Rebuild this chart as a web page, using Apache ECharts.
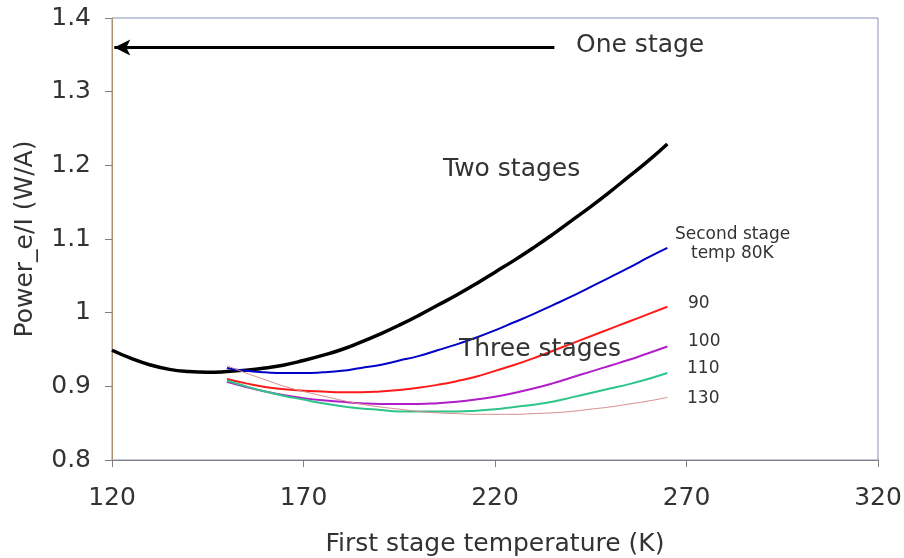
<!DOCTYPE html>
<html><head><meta charset="utf-8">
<script src="https://cdn.jsdelivr.net/npm/echarts@6/dist/echarts.min.js"></script>
<style>html,body{margin:0;padding:0;background:#fff}#c{width:904px;height:558px}</style>
</head><body><div id="c"></div>
<script>
var twoT = [120,125,130,135,140,145,150,155,160,165,170,175,180,185,190,195,200,205,210,215,220,225,230,235,240,245,250,255,260,265];
var twoStage = [0.949,0.938,0.929,0.923,0.920,0.919,0.920,0.922,0.925,0.929,0.935,0.942,0.950,0.960,0.971,0.983,0.996,1.010,1.024,1.039,1.055,1.071,1.088,1.106,1.125,1.144,1.164,1.185,1.206,1.229];
var threeT = [150,155,160,165,170,175,180,185,190,195,200,205,210,215,220,225,230,235,240,245,250,255,260,265];
var s80  = [0.925,0.921,0.919,0.918,0.918,0.919,0.921,0.925,0.929,0.935,0.941,0.949,0.957,0.966,0.976,0.987,0.998,1.010,1.022,1.035,1.048,1.061,1.075,1.088];
var s90  = [0.910,0.904,0.899,0.896,0.894,0.893,0.892,0.892,0.893,0.895,0.898,0.902,0.907,0.913,0.921,0.929,0.938,0.948,0.958,0.968,0.978,0.988,0.998,1.008];
var s100 = [0.906,0.899,0.893,0.888,0.884,0.881,0.879,0.877,0.876,0.876,0.876,0.877,0.879,0.882,0.886,0.891,0.897,0.904,0.912,0.920,0.928,0.936,0.945,0.954];
var s110 = [0.908,0.900,0.893,0.887,0.882,0.877,0.873,0.870,0.868,0.866,0.866,0.866,0.866,0.867,0.869,0.872,0.875,0.879,0.885,0.891,0.897,0.903,0.910,0.918];
var s130 = [0.928,0.918,0.909,0.900,0.893,0.887,0.881,0.876,0.872,0.869,0.866,0.864,0.863,0.862,0.862,0.862,0.863,0.864,0.866,0.869,0.872,0.876,0.880,0.885];
var xTicks = [120,170,220,270,320];
var yTicks = [0.8,0.9,1.0,1.1,1.2,1.3,1.4];
var arrowFrom = [235.5,1.36], arrowTo = [120.6,1.36];

function pairs(xs, ys){ return xs.map(function(x,i){return [x, ys[i]];}); }
var F = 'DejaVu Sans';
var chart = echarts.init(document.getElementById('c'));
function ln(name, xs, ys, color, w){
  return {name:name,type:'line',data:pairs(xs,ys),smooth:true,showSymbol:false,symbol:'none',
    lineStyle:{color:color,width:w},z:3};
}
var series = [
  ln('Two stages', twoT, twoStage, '#000000', 3.5),
  ln('80K', threeT, s80, '#0000c8', 2),
  ln('90', threeT, s90, '#ff1a1a', 2),
  ln('100', threeT, s100, '#b01ec8', 2),
  ln('110', threeT, s110, '#2ec48a', 2),
  ln('130', threeT, s130, '#d98a8a', 1)
];
series[0].markLine = {silent:true,symbol:['none','arrow'],symbolSize:[12,16],label:{show:false},
  lineStyle:{color:'#000',width:3,type:'solid'},
  data:[[{coord:arrowFrom},{coord:arrowTo}]]};
var txt = function(l,t,s,size){return {type:'text',left:l,top:t,style:{text:s,font:size+'px "'+F+'"',fill:'#333'},z:10};};
chart.setOption({
  animation:false,
  backgroundColor:'#fff',
  grid:{left:112,right:26,top:18,bottom:98,show:true,borderColor:'#8890b8',borderWidth:1,outerBoundsMode:'none',containLabel:false},
  xAxis:{type:'value',min:120,max:320,interval:50,
    axisLine:{show:true,lineStyle:{color:'#808080',width:1}},
    axisTick:{show:true,inside:false,length:7,lineStyle:{color:'#808080'}},
    splitLine:{show:false},
    axisLabel:{color:'#333',fontSize:25,fontFamily:F,margin:26,
      formatter:function(v){return xTicks.indexOf(v)>=0?String(v):'';}},
    name:'First stage temperature (K)',nameLocation:'middle',nameGap:72,
    nameTextStyle:{color:'#333',fontSize:25,fontFamily:F}},
  yAxis:{type:'value',min:0.8,max:1.4,interval:0.1,
    axisLine:{show:true,lineStyle:{color:'#a89070',width:1}},
    axisTick:{show:true,inside:false,length:7,lineStyle:{color:'#808080'}},
    splitLine:{show:false},
    axisLabel:{color:'#333',fontSize:25,fontFamily:F,margin:21,
      formatter:function(v){var r=Math.round(v*10)/10;return r===1?'1':r.toFixed(1);}},
    name:'Power_e/I (W/A)',nameLocation:'middle',nameGap:74,nameRotate:90,
    nameTextStyle:{color:'#333',fontSize:25,fontFamily:F}},
  series:series,
  graphic:[
    txt(576,33,'One stage',25),
    txt(443,157,'Two stages',25),
    txt(459,337,'Three stages',25),
    txt(675,226,'Second stage',17),
    txt(691,245,'temp 80K',17),
    txt(688,295,'90',17),
    txt(688,333,'100',17),
    txt(687,360,'110',17),
    txt(687,390,'130',17)
  ]
});
</script></body></html>
